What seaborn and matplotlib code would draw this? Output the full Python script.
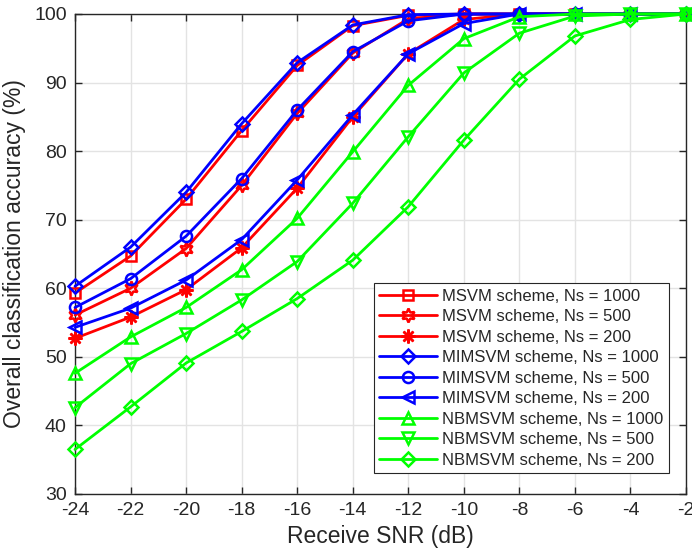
import numpy as np
import pandas as pd
import matplotlib
matplotlib.use("Agg")
import matplotlib.pyplot as plt
import seaborn as sns

# Receive SNR grid (dB)
snr = [-24, -22, -20, -18, -16, -14, -12, -10, -8, -6, -4, -2]

# Overall classification accuracy (%) per scheme and sample count
msvm_1000 = [59.3, 64.7, 73.0, 83.0, 92.5, 98.3, 99.8, 100, 100, 100, 100, 100]
msvm_500 = [56.1, 60.0, 65.8, 75.0, 85.5, 94.3, 99.3, 100, 100, 100, 100, 100]
msvm_200 = [52.7, 55.8, 59.8, 65.9, 74.6, 85.0, 94.2, 99.2, 100, 100, 100, 100]
mimsvm_1000 = [60.3, 66.0, 74.0, 84.0, 92.9, 98.4, 99.9, 100, 100, 100, 100, 100]
mimsvm_500 = [57.2, 61.4, 67.6, 76.0, 86.0, 94.5, 99.0, 100, 100, 100, 100, 100]
mimsvm_200 = [54.3, 57.1, 61.2, 67.1, 75.8, 85.3, 94.2, 98.6, 100, 100, 100, 100]
nbmsvm_1000 = [47.6, 52.9, 57.2, 62.7, 70.2, 79.9, 89.6, 96.4, 99.6, 100, 100, 100]
nbmsvm_500 = [42.6, 49.0, 53.4, 58.3, 63.9, 72.4, 82.1, 91.4, 97.2, 99.7, 100, 100]
nbmsvm_200 = [36.5, 42.7, 49.1, 53.7, 58.5, 64.1, 71.9, 81.6, 90.5, 96.8, 99.2, 100]

labels = [
    "MSVM scheme, Ns = 1000", "MSVM scheme, Ns = 500", "MSVM scheme, Ns = 200",
    "MIMSVM scheme, Ns = 1000", "MIMSVM scheme, Ns = 500", "MIMSVM scheme, Ns = 200",
    "NBMSVM scheme, Ns = 1000", "NBMSVM scheme, Ns = 500", "NBMSVM scheme, Ns = 200",
]
series = [msvm_1000, msvm_500, msvm_200, mimsvm_1000, mimsvm_500, mimsvm_200,
          nbmsvm_1000, nbmsvm_500, nbmsvm_200]

x_ticks = [-24, -22, -20, -18, -16, -14, -12, -10, -8, -6, -4, -2]
y_ticks = [30, 40, 50, 60, 70, 80, 90, 100]

# Styling per curve
colors = ["#ff0000"] * 3 + ["#0000ff"] * 3 + ["#00ff00"] * 3
markers = ["s", (6, 1, 0), (8, 2, 0), "D", "o", "<", "^", "v", "D"]
msizes = [7.5, 10, 10, 7, 8, 8.5, 8.5, 8.5, 7]

df = pd.DataFrame(
    [(lab, s, v) for lab, vals in zip(labels, series) for s, v in zip(snr, vals)],
    columns=["scheme", "snr", "acc"],
)

sns.set_theme(style="ticks")
plt.rcParams["font.family"] = ["Liberation Sans", "DejaVu Sans"]
plt.rcParams["axes.unicode_minus"] = False

fig = plt.figure(figsize=(6.92, 5.54), dpi=100)
ax = fig.add_axes([75 / 692, 1 - 494 / 554, 611 / 692, 480 / 554])

for lab, c, m, ms in zip(labels, colors, markers, msizes):
    sub = df[df["scheme"] == lab]
    sns.lineplot(data=sub, x="snr", y="acc", ax=ax, color=c, marker=m,
                 markersize=ms, markerfacecolor="none", markeredgecolor=c,
                 markeredgewidth=1.8, linewidth=2.0, label=lab, legend=False,
                 errorbar=None, clip_on=False, zorder=3)

ax.set_xlim(-24, -2)
ax.set_ylim(30, 100)
ax.set_xticks(x_ticks)
ax.set_yticks(y_ticks)
ax.grid(True, color="#e3e3e3", linewidth=1.0, zorder=0)
ax.set_axisbelow(True)
for sp in ax.spines.values():
    sp.set_visible(True)
    sp.set_color("#262626")
    sp.set_linewidth(1.0)
ax.tick_params(axis="both", direction="in", length=5, width=1.0,
               colors="#262626", labelsize=14, top=True, right=True,
               labeltop=False, labelright=False, pad=6)
ax.set_xlabel("Receive SNR (dB)", fontsize=16.5, color="#262626", labelpad=4)
ax.set_ylabel("Overall classification accuracy (%)", fontsize=16.5,
              color="#262626", labelpad=6)

handles = ax.get_lines()
leg = ax.legend(handles, labels, loc="lower right",
                bbox_to_anchor=(0.972, 0.044), borderaxespad=0,
                fontsize=12, handlelength=3.5, handletextpad=0.3,
                labelspacing=0.33, borderpad=0.32, fancybox=False,
                frameon=True, framealpha=1, edgecolor="#262626")
leg.get_frame().set_linewidth(0.8)

fig.savefig("out.png", dpi=100)
